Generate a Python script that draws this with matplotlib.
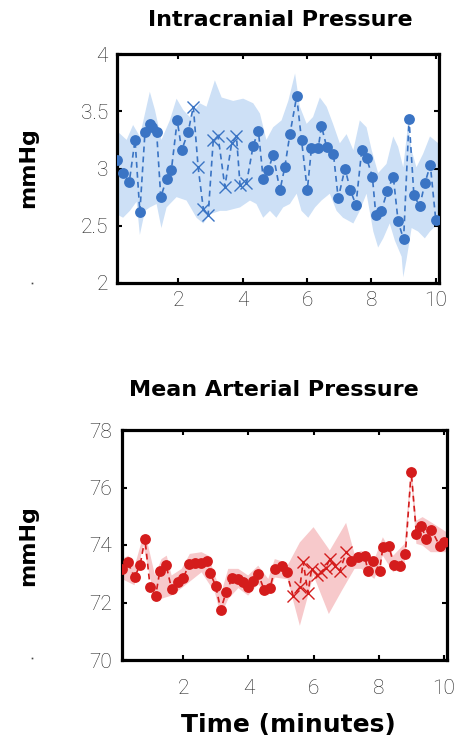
import numpy as np
import matplotlib
matplotlib.use("Agg")
import matplotlib.pyplot as plt
from matplotlib.lines import Line2D

# ---------------- Intracranial pressure (top) ----------------
icp_obs_t = [0.09, 0.29, 0.48, 0.66, 0.81, 0.97, 1.12, 1.20, 1.33, 1.46, 1.64, 1.79, 1.97, 2.11, 2.31,
             4.33, 4.49, 4.64, 4.80, 4.95, 5.16, 5.31, 5.47, 5.68, 5.83, 6.01, 6.14, 6.35, 6.45, 6.61,
             6.82, 6.97, 7.18, 7.35, 7.52, 7.70, 7.85, 8.03, 8.14, 8.31, 8.49, 8.68, 8.83, 9.00, 9.17,
             9.32, 9.50, 9.66, 9.83, 10.0]
icp_obs_v = [3.07, 2.96, 2.88, 3.25, 2.62, 3.32, 3.39, 3.36, 3.32, 2.75, 2.91, 2.99, 3.42, 3.16, 3.32,
             3.20, 3.33, 2.91, 2.99, 3.12, 2.81, 3.01, 3.30, 3.63, 3.25, 2.81, 3.18, 3.18, 3.37, 3.19,
             3.13, 2.74, 3.00, 2.81, 2.68, 3.16, 3.09, 2.93, 2.59, 2.63, 2.80, 2.93, 2.54, 2.38, 3.43,
             2.77, 2.67, 2.87, 3.03, 2.55]
icp_imp_t = [2.47, 2.62, 2.78, 2.93, 3.09, 3.24, 3.45, 3.66, 3.81, 3.92, 4.12]
icp_imp_v = [3.54, 3.01, 2.65, 2.59, 3.25, 3.28, 2.84, 3.22, 3.28, 2.86, 2.87]

icp_up_t = [0.09, 0.40, 0.60, 0.81, 1.12, 1.28, 1.48, 1.74, 1.95, 2.16, 2.36, 2.67, 2.88, 3.14, 3.35,
            3.71, 4.02, 4.33, 4.54, 4.74, 4.95, 5.21, 5.42, 5.63, 5.78, 5.99, 6.19, 6.40, 6.61, 6.81,
            7.02, 7.23, 7.44, 7.64, 7.85, 8.01, 8.21, 8.47, 8.68, 8.83, 8.99, 9.14, 9.25, 9.40, 9.61,
            9.82, 10.08]
icp_up_v = [3.33, 3.25, 3.38, 3.28, 3.67, 3.51, 3.25, 3.42, 3.61, 3.51, 3.45, 3.57, 3.54, 3.77, 3.62,
            3.59, 3.61, 3.57, 3.48, 3.25, 3.36, 3.42, 3.59, 3.83, 3.54, 3.39, 3.45, 3.62, 3.54, 3.39,
            3.22, 3.30, 3.16, 3.42, 3.36, 3.16, 2.96, 3.04, 3.28, 3.19, 3.01, 3.39, 3.16, 3.01, 3.13,
            3.28, 3.22]
icp_lo_t = [0.09, 0.29, 0.50, 0.71, 0.81, 0.97, 1.12, 1.33, 1.48, 1.64, 1.95, 2.26, 2.57, 2.78, 2.98,
            3.30, 3.50, 3.92, 4.23, 4.43, 4.64, 4.85, 5.05, 5.26, 5.47, 5.68, 5.83, 6.04, 6.25, 6.45,
            6.71, 6.92, 7.12, 7.44, 7.64, 7.85, 8.06, 8.21, 8.37, 8.57, 8.73, 8.94, 8.99, 9.09, 9.25,
            9.45, 9.66, 9.82, 10.08]
icp_lo_v = [2.60, 2.57, 2.63, 2.71, 2.42, 2.63, 2.66, 2.69, 2.48, 2.66, 2.75, 2.72, 2.57, 2.52, 2.60,
            2.63, 2.63, 2.66, 2.72, 2.69, 2.57, 2.63, 2.57, 2.66, 2.69, 2.78, 2.63, 2.57, 2.66, 2.72,
            2.78, 2.63, 2.57, 2.52, 2.63, 2.78, 2.45, 2.31, 2.39, 2.52, 2.37, 2.23, 2.05, 2.20, 2.48,
            2.45, 2.39, 2.45, 2.52]

# ---------------- Mean arterial pressure (bottom) ----------------
map_obs_t = [0.11, 0.29, 0.50, 0.67, 0.82, 0.98, 1.15, 1.28, 1.47, 1.64, 1.83, 2.00, 2.17, 2.36, 2.54,
             2.72, 2.82, 2.99, 3.15, 3.31, 3.50, 3.69, 3.84, 3.99, 4.15, 4.30, 4.48, 4.66, 4.81, 5.02,
             5.17,
             7.16, 7.37, 7.57, 7.67, 7.83, 8.03, 8.13, 8.31, 8.47, 8.65, 8.82, 9.00, 9.16, 9.31, 9.46,
             9.62, 9.87, 10.0]
map_obs_v = [73.17, 73.40, 72.88, 73.30, 74.21, 72.53, 72.24, 73.11, 73.30, 72.47, 72.73, 72.84, 73.34,
             73.37, 73.37, 73.46, 73.03, 72.59, 71.75, 72.35, 72.84, 72.82, 72.73, 72.53, 72.76, 72.99,
             72.45, 72.49, 73.17, 73.28, 73.05,
             73.46, 73.57, 73.61, 73.11, 73.46, 73.11, 73.92, 73.98, 73.30, 73.28, 73.69, 76.55, 74.38,
             74.67, 74.21, 74.53, 73.98, 74.09]
map_imp_t = [5.37, 5.58, 5.68, 5.83, 5.94, 6.12, 6.24, 6.37, 6.50, 6.65, 6.81, 7.01]
map_imp_v = [72.24, 72.53, 73.42, 72.33, 73.17, 72.96, 73.07, 73.19, 73.51, 73.28, 73.11, 73.77]

map_up_t = [0.11, 0.31, 0.51, 0.77, 0.92, 1.13, 1.33, 1.49, 1.64, 1.95, 2.20, 2.56, 2.77, 2.97, 3.17,
            3.38, 3.69, 3.99, 4.30, 4.61, 4.81, 5.12, 5.20, 5.58, 6.00, 6.50, 7.00, 7.26, 7.47, 7.87,
            8.13, 8.45, 8.80, 9.00, 9.16, 9.35, 9.60, 10.08]
map_up_v = [73.51, 73.63, 73.28, 74.33, 73.98, 72.94, 73.51, 73.63, 72.94, 73.17, 73.69, 73.75, 73.63,
            72.94, 72.35, 73.17, 73.17, 72.94, 73.28, 72.82, 73.51, 73.40, 73.28, 74.09, 74.62, 73.81,
            74.77, 73.69, 73.80, 73.50, 74.27, 73.63, 74.04, 76.76, 74.85, 74.97, 74.80, 74.45]
map_lo_t = [0.11, 0.50, 0.77, 1.13, 1.64, 1.95, 2.56, 2.97, 3.15, 3.38, 3.69, 3.99, 4.30, 4.61, 4.81,
            5.12, 5.20, 5.58, 6.00, 6.47, 6.87, 7.26, 7.47, 7.87, 8.13, 8.45, 8.80, 9.00, 9.16, 9.35,
            9.60, 10.08]
map_lo_v = [72.82, 72.60, 73.98, 72.06, 72.24, 72.50, 73.05, 72.35, 71.55, 72.12, 72.50, 72.24, 72.64,
            72.24, 72.87, 72.82, 72.82, 71.19, 72.94, 71.60, 72.41, 73.17, 73.17, 72.82, 73.63, 73.05,
            73.40, 76.30, 74.04, 73.98, 73.75, 73.75]

x_ticks = [2, 4, 6, 8, 10]
icp_yticks = [2, 2.5, 3, 3.5, 4]
icp_yticklabels = ["2", "2.5", "3", "3.5", "4"]
map_yticks = [70, 72, 74, 76, 78]
map_yticklabels = ["70", "72", "74", "76", "78"]

W, H = 454, 744
fig = plt.figure(figsize=(W / 100, H / 100), dpi=100)
fig.patch.set_facecolor("white")

tick_font = dict(family=["Roboto", "DejaVu Sans"], weight="light", size=15)
bold_font = ["DejaVu Sans"]


def panel(ax, obs_t, obs_v, imp_t, imp_v, up_t, up_v, lo_t, lo_v,
          dot_c, band_c, ylim, yticks, ylabels, xpad):
    poly_x = np.concatenate([up_t, lo_t[::-1]])
    poly_y = np.concatenate([up_v, lo_v[::-1]])
    ax.fill(poly_x, poly_y, color=band_c, lw=0, zorder=1)
    all_t = np.array(list(obs_t) + list(imp_t))
    all_v = np.array(list(obs_v) + list(imp_v))
    order = np.argsort(all_t)
    ax.plot(all_t[order], all_v[order], ls=(0, (3.5, 2.5)), lw=1.2, color=dot_c, zorder=2)
    ax.plot(obs_t, obs_v, ls="none", marker="o", ms=7.8, mew=0, color=dot_c, zorder=3)
    ax.plot(imp_t, imp_v, ls="none", marker="x", ms=8.5, mew=1.0, color=dot_c, zorder=3)
    ax.set_xlim(0.1, 10.1)
    ax.set_ylim(*ylim)
    ax.set_xticks(x_ticks)
    ax.set_xticklabels([str(t) for t in x_ticks], fontdict=tick_font, color="#222222")
    ax.set_yticks(yticks)
    ax.set_yticklabels(ylabels, fontdict=tick_font, color="#222222")
    ax.tick_params(axis="both", direction="in", top=True, right=True, length=3.5, width=1.5,
                   color="black")
    ax.tick_params(axis="x", pad=xpad)
    ax.tick_params(axis="y", pad=6.5)
    for s in ax.spines.values():
        s.set_linewidth(2.3)
        s.set_color("black")


ax1 = fig.add_axes([117 / W, 1 - 283 / H, 322 / W, 229 / H])
panel(ax1, icp_obs_t, icp_obs_v, icp_imp_t, icp_imp_v,
      np.array(icp_up_t), np.array(icp_up_v), np.array(icp_lo_t), np.array(icp_lo_v),
      "#3a74c4", "#cde0f6", (2, 4), icp_yticks, icp_yticklabels, 6)

ax2 = fig.add_axes([121.5 / W, 1 - 660 / H, 325.5 / W, 230 / H])
panel(ax2, map_obs_t, map_obs_v, map_imp_t, map_imp_v,
      np.array(map_up_t), np.array(map_up_v), np.array(map_lo_t), np.array(map_lo_v),
      "#d41c1c", "#f7c9cb", (70, 78), map_yticks, map_yticklabels, 13.5)

fig.text(280 / W, 1 - 20 / H, "Intracranial Pressure", ha="center", va="center",
         fontsize=16, fontweight="bold", family=bold_font)
fig.text(274 / W, 1 - 390 / H, "Mean Arterial Pressure", ha="center", va="center",
         fontsize=16, fontweight="bold", family=bold_font)
fig.text(288 / W, 1 - 725 / H, "Time (minutes)", ha="center", va="center",
         fontsize=18, fontweight="bold", family=bold_font)
fig.text(28 / W, 1 - 168 / H, "mmHg", ha="center", va="center", rotation=90,
         fontsize=16, fontweight="bold", family=bold_font)
fig.text(28 / W, 1 - 546 / H, "mmHg", ha="center", va="center", rotation=90,
         fontsize=16, fontweight="bold", family=bold_font)

for yy in (283, 658):
    fig.add_artist(Line2D([32 / W], [1 - yy / H], marker="s", ms=1.2, mew=0, color="#444444",
                          transform=fig.transFigure))

fig.savefig("out.png", dpi=100, facecolor="white")
